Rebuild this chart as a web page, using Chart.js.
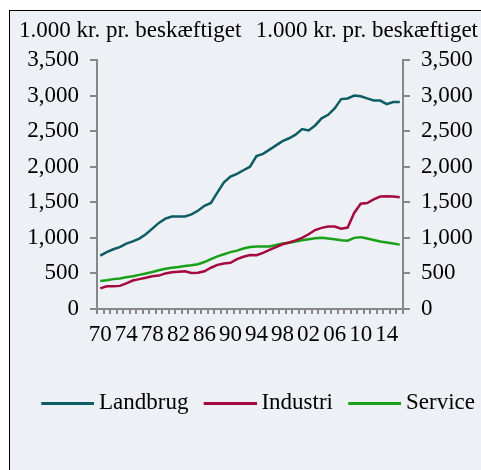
<!DOCTYPE html>
<html>
<head>
<meta charset="utf-8">
<script src="https://cdn.jsdelivr.net/npm/chart.js@4.4.1/dist/chart.umd.min.js"></script>
<style>
body { margin:0; background:#fff; width:481px; height:470px; overflow:hidden; position:relative; }
#panel { position:absolute; left:9px; top:10px; width:472px; height:460px; border-left:1px solid #000; border-top:1px solid #000; background:#edf0f4; }
#wrap { position:absolute; left:0; top:0; width:471px; height:459px; }
</style>
</head>
<body>
<div id="panel"><div id="wrap"><canvas id="chart"></canvas></div></div>
<script>
"use strict"

const years = ['70','71','72','73','74','75','76','77','78','79',
               '80','81','82','83','84','85','86','87','88','89',
               '90','91','92','93','94','95','96','97','98','99',
               '00','01','02','03','04','05','06','07','08','09',
               '10','11','12','13','14','15','16'];
const shownYears = ['70','74','78','82','86','90','94','98','02','06','10','14'];

const landbrug = [750, 800, 840, 870, 920, 950, 990, 1050, 1130, 1210,
                  1270, 1300, 1300, 1300, 1330, 1380, 1450, 1490, 1640, 1780,
                  1860, 1900, 1950, 2000, 2150, 2180, 2240, 2300, 2360, 2400,
                  2450, 2530, 2510, 2580, 2680, 2730, 2820, 2950, 2960, 3000,
                  2990, 2960, 2930, 2930, 2880, 2910, 2910];
const industri = [290, 320, 320, 325, 360, 400, 420, 440, 460, 470,
                  500, 515, 525, 530, 505, 510, 530, 580, 620, 640,
                  650, 700, 735, 760, 755, 790, 830, 870, 910, 935,
                  965, 1000, 1050, 1110, 1140, 1160, 1160, 1130, 1145, 1350,
                  1480, 1490, 1540, 1580, 1585, 1580, 1570];
const service  = [395, 405, 420, 430, 445, 460, 480, 500, 520, 545,
                  565, 580, 590, 605, 615, 630, 660, 700, 740, 770,
                  800, 820, 850, 870, 880, 880, 880, 900, 920, 930,
                  950, 965, 980, 995, 1000, 990, 980, 965, 960, 1000,
                  1010, 990, 970, 950, 935, 920, 905];

const seriesNames = ['Landbrug', 'Industri', 'Service'];
const seriesColors = ['#0e5c64', '#a50a3e', '#18a118'];
const axisTitle = '1.000 kr. pr. beskæftiget';

const FONT = 'Liberation Serif';
const FSIZE = 23;
const grey = '#878787';

// legend marker: a 53px line near the right end of a small canvas
function lineIcon(color){
    let c = document.createElement('canvas');
    c.width = 75; c.height = 3;
    let g = c.getContext('2d');
    g.fillStyle = color;
    g.fillRect(22, 0, 53, 3);
    return c;
}

// the two horizontal axis titles above the plot
const axisTitles = {
    id: 'axisTitles',
    afterDraw(chart){
        const ctx = chart.ctx;
        ctx.save();
        ctx.font = FSIZE + 'px "' + FONT + '"';
        ctx.fillStyle = '#000';
        ctx.textBaseline = 'alphabetic';
        ctx.textAlign = 'left';
        ctx.fillText(axisTitle, 9, 26);
        ctx.textAlign = 'right';
        ctx.fillText(axisTitle, 468, 26);
        ctx.restore();
    }
};

let allData = [landbrug, industri, service];
let datasets = [];
allData.forEach(function(values, i){
    datasets.push({
        label: seriesNames[i],
        data: values,
        borderColor: seriesColors[i],
        backgroundColor: seriesColors[i],
        borderWidth: 2.5,
        pointRadius: 0,
        pointStyle: lineIcon(seriesColors[i]),
        tension: 0,
        fill: false
    });
});

const yAxis = function(pos, width){
    return {
        position: pos,
        min: 0,
        max: 3500,
        grid: { drawOnChartArea: false, tickLength: 7, color: grey, lineWidth: 2 },
        border: { color: grey, width: 2 },
        ticks: {
            stepSize: 500,
            padding: 11,
            color: '#000',
            font: { family: FONT, size: FSIZE },
            callback: v => v.toLocaleString('en-US')
        },
        afterFit: s => { s.width = width; }
    };
};

const ctx = document.getElementById('chart').getContext('2d');
new Chart(ctx, {
    type: 'line',
    data: { labels: years, datasets: datasets },
    plugins: [axisTitles],
    options: {
        responsive: true,
        maintainAspectRatio: false,
        animation: false,
        layout: { padding: { left: 16, right: 0, top: 49, bottom: 45.5 } },
        plugins: {
            tooltip: { enabled: false },
            legend: {
                position: 'bottom',
                align: 'start',
                labels: {
                    usePointStyle: true,
                    pointStyleWidth: 61.5,
                    padding: 0,
                    color: '#000',
                    font: { family: FONT, size: FSIZE }
                }
            }
        },
        scales: {
            x: {
                offset: true,
                grid: { offset: true, drawOnChartArea: false, tickLength: 5, color: grey, lineWidth: 2 },
                border: { color: grey, width: 2 },
                ticks: {
                    autoSkip: false,
                    maxRotation: 0,
                    padding: 7,
                    color: '#000',
                    font: { family: FONT, size: FSIZE },
                    callback: function(v){
                        let l = this.getLabelForValue(v);
                        return shownYears.includes(l) ? l : '';
                    }
                },
                afterFit: s => { s.height = 82.5; }
            },
            y: yAxis('left', 71),
            y2: yAxis('right', 78)
        }
    }
});
</script>
</body>
</html>
